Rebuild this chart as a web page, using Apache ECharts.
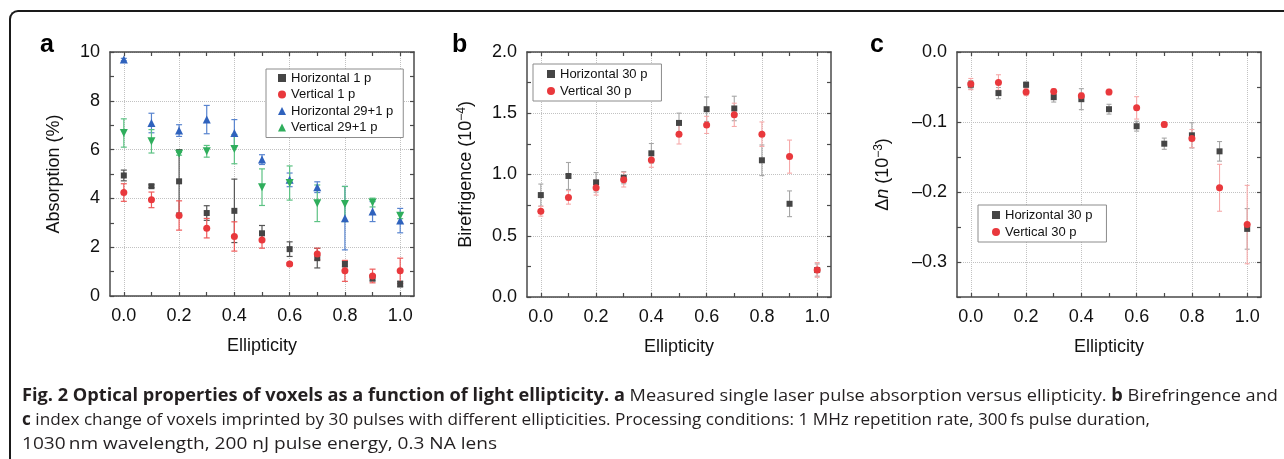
<!DOCTYPE html>
<html><head><meta charset="utf-8">
<script src="https://cdn.jsdelivr.net/npm/echarts@6/dist/echarts.min.js"></script>
<style>
html,body{margin:0;padding:0;background:#fff;width:1284px;height:459px;overflow:hidden;}
#frame{position:absolute;left:9px;top:10px;width:1400px;height:600px;border-left:2px solid #1a1a1a;border-top:2px solid #1a1a1a;border-top-left-radius:9px;box-sizing:border-box;}
#chart{position:absolute;left:0;top:0;width:1284px;height:459px;}
#cap{position:absolute;left:22px;top:383px;font-family:'Open Sans','Noto Sans',sans-serif;font-size:17px;line-height:24px;color:#231f20;white-space:nowrap;}
#cap .ln{display:block;width:max-content;transform-origin:0 0;}
#cap b{font-weight:700;}
</style></head>
<body>
<div id="frame"></div>
<div id="chart"></div>
<div id="cap">
<span class="ln" data-w="1256"><b>Fig. 2 Optical properties of voxels as a function of light ellipticity.</b> <b>a</b> Measured single laser pulse absorption versus ellipticity. <b>b</b> Birefringence and</span>
<span class="ln" data-w="1128"><b>c</b> index change of voxels imprinted by 30 pulses with different ellipticities. Processing conditions: 1 MHz repetition rate, 300&#8201;fs pulse duration,</span>
<span class="ln" data-w="475">1030&#8201;nm wavelength, 200 nJ pulse energy, 0.3 NA lens</span>
</div>
<script>
// ---------- data ----------
const ellipticity = [0.0, 0.1, 0.2, 0.3, 0.4, 0.5, 0.6, 0.7, 0.8, 0.9, 1.0];

// panel a: absorption (%)
const absH1     = [4.94, 4.50, 4.70, 3.40, 3.49, 2.57, 1.92, 1.55, 1.31, 0.73, 0.49];
const absH1Err  = [0.22, 0.06, 1.30, 0.30, 1.30, 0.32, 0.30, 0.40, 0.12, 0.12, 0.12];
const absV1     = [4.24, 3.94, 3.30, 2.78, 2.44, 2.30, 1.31, 1.72, 1.03, 0.82, 1.03];
const absV1Err  = [0.36, 0.32, 0.60, 0.40, 0.60, 0.34, 0.06, 0.24, 0.43, 0.28, 0.52];
const absH29    = [9.69, 7.09, 6.78, 7.23, 6.68, 5.59, 4.76, 4.46, 3.19, 3.46, 3.09];
const absH29Err = [0.05, 0.40, 0.24, 0.58, 0.55, 0.20, 0.28, 0.22, 1.30, 0.41, 0.50];
const absV29    = [6.68, 6.34, 5.83, 5.93, 6.02, 4.46, 4.63, 3.80, 3.77, 3.83, 3.29];
const absV29Err = [0.58, 0.48, 0.06, 0.24, 0.60, 0.75, 0.70, 0.75, 0.72, 0.18, 0.12];

// panel b: birefringence (1e-4)
const birH    = [0.832, 0.988, 0.936, 0.974, 1.173, 1.421, 1.533, 1.539, 1.116, 0.761, 0.220];
const birHErr = [0.090, 0.110, 0.080, 0.050, 0.080, 0.080, 0.100, 0.100, 0.125, 0.105, 0.050];
const birV    = [0.700, 0.813, 0.892, 0.958, 1.119, 1.329, 1.405, 1.487, 1.329, 1.146, 0.221];
const birVErr = [0.040, 0.055, 0.060, 0.060, 0.060, 0.080, 0.070, 0.095, 0.100, 0.135, 0.060];

// panel c: index change (1e-3)
const dnH    = [-0.0468, -0.0587, -0.0468, -0.0645, -0.0674, -0.0817, -0.1060, -0.1310, -0.1190, -0.1419, -0.2527];
const dnHErr = [0.006, 0.008, 0.004, 0.007, 0.015, 0.007, 0.007, 0.008, 0.018, 0.014, 0.029];
const dnV    = [-0.0458, -0.0435, -0.0573, -0.0564, -0.0626, -0.0573, -0.0798, -0.1037, -0.1237, -0.1940, -0.2465];
const dnVErr = [0.008, 0.011, 0.005, 0.004, 0.004, 0.004, 0.016, 0.004, 0.013, 0.0335, 0.056];

// tick values / labels
const xLabelTicks = [0.0, 0.2, 0.4, 0.6, 0.8, 1.0];
const xAllTicks   = [0.0, 0.1, 0.2, 0.3, 0.4, 0.5, 0.6, 0.7, 0.8, 0.9, 1.0];
const absLabelTicks = [0, 2, 4, 6, 8, 10];
const absAllTicks   = [0, 1, 2, 3, 4, 5, 6, 7, 8, 9, 10];
const birLabelTicks = [0.0, 0.5, 1.0, 1.5, 2.0];
const birAllTicks   = [0.0, 0.25, 0.5, 0.75, 1.0, 1.25, 1.5, 1.75, 2.0];
const dnLabelTicks  = [-0.3, -0.2, -0.1, 0.0];
const dnAllTicks    = [-0.35, -0.3, -0.25, -0.2, -0.15, -0.1, -0.05, 0.0];

const legendA = ['Horizontal 1 p', 'Vertical 1 p', 'Horizontal 29+1 p', 'Vertical 29+1 p'];
const legendBC = ['Horizontal 30 p', 'Vertical 30 p'];

// ---------- styling ----------
const FONT = "'Liberation Sans', Arial, Helvetica, sans-serif";
const AX = '#4a4a4a';
const TXT = '#111';
const GRAY = '#454545', RED = '#e9383c', BLUE = '#2f62bd', GREEN = '#2fae5c';

const grids = [
  {left: 110, top: 52, width: 304, height: 244},
  {left: 527, top: 52, width: 304, height: 245},
  {left: 957, top: 52, width: 304, height: 245}
];

function xAxesFor(gi) {
  const base = {gridIndex: gi, type: 'value', min: -0.05, max: 1.05};
  const line = {show: true, onZero: false, lineStyle: {color: AX, width: 1.5}};
  const tick = {show: true, inside: true, length: 4, customValues: xAllTicks, lineStyle: {color: AX, width: 1.2}};
  return [
    Object.assign({}, base, {
      position: 'bottom', name: 'Ellipticity', nameLocation: 'middle', nameGap: 41,
      nameTextStyle: {fontSize: 18, color: TXT, fontFamily: FONT},
      axisLine: line, axisTick: tick,
      axisLabel: {customValues: xLabelTicks, formatter: v => v.toFixed(1), fontSize: 18, color: TXT, margin: 11, fontFamily: FONT},
      splitLine: {show: false}
    }),
    Object.assign({}, base, {
      position: 'top', axisLine: line, axisTick: tick, axisLabel: {show: false}, splitLine: {show: false}
    }),
    Object.assign({}, base, {
      position: 'bottom', axisLine: {show: false, onZero: false},
      axisTick: {show: false, customValues: xLabelTicks}, axisLabel: {show: false},
      splitLine: {show: true, lineStyle: {type: 'dotted', color: '#c2c2c2', width: 1}}
    })
  ];
}

function yAxesFor(gi, min, max, allTicks, labelTicks, fmt, name, gap, rich) {
  const base = {gridIndex: gi, type: 'value', min: min, max: max};
  const line = {show: true, onZero: false, lineStyle: {color: AX, width: 1.5}};
  const tick = {show: true, inside: true, length: 4, customValues: allTicks, lineStyle: {color: AX, width: 1.2}};
  return [
    Object.assign({}, base, {
      position: 'left', name: name, nameLocation: 'middle', nameGap: gap,
      nameTextStyle: {fontSize: 18, color: TXT, fontFamily: FONT, rich: rich},
      axisLine: line, axisTick: tick,
      axisLabel: {customValues: labelTicks, formatter: fmt, fontSize: 18, color: TXT, margin: 10, fontFamily: FONT},
      splitLine: {show: false}
    }),
    Object.assign({}, base, {
      position: 'right', axisLine: line, axisTick: tick, axisLabel: {show: false}, splitLine: {show: false}
    }),
    Object.assign({}, base, {
      position: 'left', axisLine: {show: false, onZero: false},
      axisTick: {show: false, customValues: labelTicks}, axisLabel: {show: false},
      splitLine: {show: true, lineStyle: {type: 'dotted', color: '#c2c2c2', width: 1}}
    })
  ];
}

const richBase = {
  t: {fontSize: 18, color: TXT, fontFamily: FONT, lineHeight: 20},
  i: {fontSize: 18, color: TXT, fontFamily: FONT, fontStyle: 'italic', lineHeight: 20},
  sup: {fontSize: 12, color: TXT, fontFamily: FONT, verticalAlign: 'top', lineHeight: 12}
};

function zip(xs, ys) { return xs.map((x, i) => [x, ys[i]]); }

let errCount = 0;
function errSeries(gi, ys, es, color, cap, lw) {
  errCount += 1;
  return {
    type: 'custom', name: 'errorbar-' + errCount, xAxisIndex: gi * 3, yAxisIndex: gi * 3,
    silent: true, z: 2,
    data: ellipticity.map((x, i) => [x, ys[i] - es[i], ys[i] + es[i]]),
    encode: {x: 0, y: [1, 2]},
    renderItem: function (params, api) {
      const x = api.value(0);
      const lo = api.coord([x, api.value(1)]);
      const hi = api.coord([x, api.value(2)]);
      const h = cap / 2;
      const st = {stroke: color, lineWidth: lw};
      return {type: 'group', children: [
        {type: 'line', shape: {x1: lo[0], y1: lo[1], x2: hi[0], y2: hi[1]}, style: st},
        {type: 'line', shape: {x1: lo[0] - h, y1: lo[1], x2: lo[0] + h, y2: lo[1]}, style: st},
        {type: 'line', shape: {x1: hi[0] - h, y1: hi[1], x2: hi[0] + h, y2: hi[1]}, style: st}
      ]};
    }
  };
}

function dotSeries(gi, name, ys, symbol, size, color, rot) {
  return {
    type: 'scatter', name: name, xAxisIndex: gi * 3, yAxisIndex: gi * 3,
    data: zip(ellipticity, ys), symbol: symbol, symbolSize: size, symbolRotate: rot || 0,
    itemStyle: {color: color, opacity: 1}, z: 3, silent: true
  };
}

const series = [
  errSeries(0, absH1, absH1Err, '#555555', 6, 1.2),
  dotSeries(0, 'Horizontal 1 p', absH1, 'rect', 6, GRAY),
  errSeries(0, absV1, absV1Err, '#ee5a5a', 6, 1.2),
  dotSeries(0, 'Vertical 1 p', absV1, 'circle', 7, RED),
  errSeries(0, absH29, absH29Err, '#5884cf', 6, 1.2),
  dotSeries(0, 'Horizontal 29+1 p', absH29, 'triangle', 8, BLUE),
  errSeries(0, absV29, absV29Err, '#5cc283', 6, 1.2),
  dotSeries(0, 'Vertical 29+1 p', absV29, 'triangle', 8, GREEN, 180),

  errSeries(1, birH, birHErr, '#a6a6a6', 5, 1.1),
  dotSeries(1, 'Horizontal 30 p', birH, 'rect', 6, GRAY),
  errSeries(1, birV, birVErr, '#f6a9a9', 5, 1.1),
  dotSeries(1, 'Vertical 30 p', birV, 'circle', 7, RED),

  errSeries(2, dnH, dnHErr, '#a6a6a6', 5, 1.1),
  dotSeries(2, 'Horizontal 30 p', dnH, 'rect', 6, GRAY),
  errSeries(2, dnV, dnVErr, '#f6a9a9', 5, 1.1),
  dotSeries(2, 'Vertical 30 p', dnV, 'circle', 7, RED)
];

function legendAt(names, left, top, pad, gap) {
  return {
    data: names, orient: 'vertical', left: left, top: top, padding: pad, itemGap: gap,
    itemWidth: 8, itemHeight: 8, borderColor: '#8c8c8c', borderWidth: 1, borderRadius: 0,
    backgroundColor: '#fff', selectedMode: false,
    textStyle: {fontSize: 13, color: TXT, fontFamily: FONT, lineHeight: 14}
  };
}

const panelLetters = [['a', 40, 33], ['b', 452, 33], ['c', 870, 33]];

const option = {
  animation: false,
  backgroundColor: 'transparent',
  grid: grids,
  xAxis: [].concat(xAxesFor(0), xAxesFor(1), xAxesFor(2)),
  yAxis: [].concat(
    yAxesFor(0, 0, 10, absAllTicks, absLabelTicks, v => String(v), 'Absorption (%)', 47, richBase),
    yAxesFor(1, 0, 2, birAllTicks, birLabelTicks, v => v.toFixed(1), '{t|Birefrigence (10}{sup|−4}{t|)}', 51, richBase),
    yAxesFor(2, -0.35, 0, dnAllTicks, dnLabelTicks, v => (v < 0 ? '–' + Math.abs(v).toFixed(1) : v.toFixed(1)), '{t|Δ}{i|n}{t| (10}{sup|−3}{t|)}', 64, richBase)
  ),
  legend: [
    legendAt(legendA, 266, 69, [2, 10, 3, 12], 2.5),
    legendAt(legendBC, 533, 64, [3, 14, 3, 14], 3),
    legendAt(legendBC, 978, 205, [3, 14, 3, 14], 3)
  ],
  graphic: panelLetters.map(p => ({
    type: 'text', x: p[1], y: p[2], silent: true,
    style: {text: p[0], font: "bold 25px 'Liberation Sans', Arial, sans-serif", fill: '#000', verticalAlign: 'top'}
  })),
  series: series
};

const chart = echarts.init(document.getElementById('chart'), null, {renderer: 'canvas'});
chart.setOption(option);

// fit each caption line to the width it has in the figure
document.querySelectorAll('#cap .ln').forEach(function (el) {
  const w = el.getBoundingClientRect().width;
  el.style.transform = 'scaleX(' + (parseFloat(el.dataset.w) / w) + ')';
});
</script>
</body></html>
